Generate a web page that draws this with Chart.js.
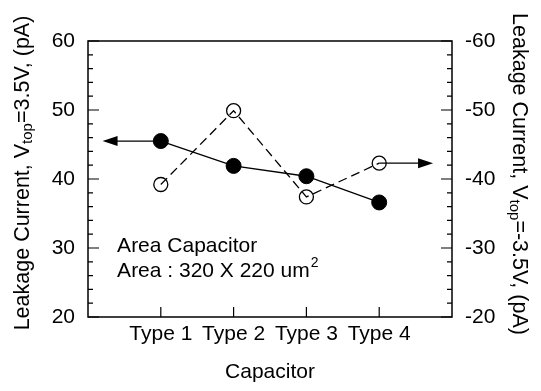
<!DOCTYPE html>
<html>
<head>
<meta charset="utf-8">
<script src="https://cdn.jsdelivr.net/npm/chart.js@4.4.1/dist/chart.umd.min.js"></script>
<style>
    html, body { margin: 0; padding: 0; background: #fff; }
    #wrap { width: 541px; height: 391px; }
</style>
</head>
<body>
<div id="wrap"><canvas id="myChart"></canvas></div>
<script>
let categories = ["Type 1", "Type 2", "Type 3", "Type 4"],
    leftValues = [45.5, 41.9, 40.4, 36.6],      // filled circles, Vtop=3.5V
    rightValues = [-39.2, -49.9, -37.4, -42.3];  // open circles, Vtop=-3.5V

let leftTicks = [20, 30, 40, 50, 60],
    rightTicks = [-60, -50, -40, -30, -20];

// where the two arrows end (x in category units)
let arrowEnds = [0.2, 4.74];

let noteLines = ["Area Capacitor", "Area : 320 X 220 um"],
    noteSup = "2";

const FONT = "Liberation Sans, Arial, Helvetica, sans-serif";

const toPoints = (vals) => vals.map((v, i) => ({ x: i + 1, y: v }));

// draw text made of pieces with different sizes / vertical offsets, centered at (0,0)
const drawRich = (ctx, parts) => {
    let total = 0;
    parts.forEach(p => {
        ctx.font = p.size + "px " + FONT;
        p.w = ctx.measureText(p.t).width;
        total += p.w;
    });
    let x = -total / 2;
    parts.forEach(p => {
        ctx.font = p.size + "px " + FONT;
        ctx.fillText(p.t, x, p.dy);
        x += p.w;
    });
};

const arrow = (ctx, x0, x1, y) => {
    let dir = x1 > x0 ? 1 : -1;
    ctx.beginPath();
    ctx.moveTo(x0, y);
    ctx.lineTo(x1 - dir * 12, y);
    ctx.stroke();
    ctx.beginPath();
    ctx.moveTo(x1, y);
    ctx.lineTo(x1 - dir * 15, y - 5);
    ctx.lineTo(x1 - dir * 15, y + 5);
    ctx.closePath();
    ctx.fill();
};

const decor = {
    id: "decor",
    afterDraw(chart) {
        const ctx = chart.ctx;
        const a = chart.chartArea;
        const sx = chart.scales.x, sy = chart.scales.y, sy2 = chart.scales.y2;
        ctx.save();
        ctx.strokeStyle = "#000";
        ctx.fillStyle = "#000";

        // frame
        ctx.lineWidth = 1.5;
        ctx.strokeRect(a.left, a.top, a.right - a.left, a.bottom - a.top);

        // inward ticks, left and right
        ctx.lineWidth = 1.2;
        ctx.beginPath();
        for (let v = 20; v <= 60; v += 2) {
            let len = v % 10 === 0 ? 11 : 5;
            let py = sy.getPixelForValue(v);
            ctx.moveTo(a.left, py); ctx.lineTo(a.left + len, py);
        }
        for (let v = -60; v <= -20; v += 2) {
            let len = v % 10 === 0 ? 11 : 5;
            let py = sy2.getPixelForValue(v);
            ctx.moveTo(a.right, py); ctx.lineTo(a.right - len, py);
        }
        categories.forEach((c, i) => {
            let px = sx.getPixelForValue(i + 1);
            ctx.moveTo(px, a.bottom); ctx.lineTo(px, a.bottom - 10);
        });
        ctx.stroke();

        // arrows
        ctx.lineWidth = 1.3;
        arrow(ctx, sx.getPixelForValue(1), sx.getPixelForValue(arrowEnds[0]), sy.getPixelForValue(leftValues[0]));
        arrow(ctx, sx.getPixelForValue(4), sx.getPixelForValue(arrowEnds[1]), sy2.getPixelForValue(rightValues[3]));

        // note text
        ctx.textBaseline = "middle";
        ctx.textAlign = "left";
        ctx.font = "21px " + FONT;
        let nx = sx.getPixelForValue(0.4);
        ctx.fillText(noteLines[0], nx, sy.getPixelForValue(30.3));
        let ny = sy.getPixelForValue(26.6);
        ctx.fillText(noteLines[1], nx, ny);
        let w = ctx.measureText(noteLines[1]).width;
        ctx.font = "14px " + FONT;
        ctx.fillText(noteSup, nx + w + 1, ny - 8);

        // axis titles with subscript
        ctx.textAlign = "left";
        ctx.textBaseline = "middle";
        ctx.save();
        ctx.translate(23, 173);
        ctx.rotate(-Math.PI / 2);
        drawRich(ctx, [
            { t: "Leakage Current, V", size: 21.5, dy: 0 },
            { t: "top", size: 15, dy: 5 },
            { t: "=3.5V, (pA)", size: 21.5, dy: 0 }
        ]);
        ctx.restore();

        ctx.save();
        ctx.translate(519, 174);
        ctx.rotate(Math.PI / 2);
        drawRich(ctx, [
            { t: "Leakage Current, V", size: 21.5, dy: 0 },
            { t: "top", size: 15, dy: 5 },
            { t: "=-3.5V, (pA)", size: 21.5, dy: 0 }
        ]);
        ctx.restore();

        // x title
        ctx.textAlign = "center";
        ctx.font = "21px " + FONT;
        ctx.fillText("Capacitor", (a.left + a.right) / 2, 372);

        ctx.restore();
    }
};

let data = {
    datasets: [{
        label: "Vtop=3.5V",
        data: toPoints(leftValues),
        yAxisID: "y",
        borderColor: "#000",
        borderWidth: 1.3,
        pointRadius: 7.5,
        pointBackgroundColor: "#000",
        pointBorderColor: "#000",
        pointBorderWidth: 1,
        tension: 0
    }, {
        label: "Vtop=-3.5V",
        data: toPoints(rightValues),
        yAxisID: "y2",
        borderColor: "#000",
        borderWidth: 1.3,
        borderDash: [9, 5],
        pointRadius: 7,
        pointBackgroundColor: "rgba(0,0,0,0)",
        pointBorderColor: "#000",
        pointBorderWidth: 1.3,
        tension: 0
    }]
};

const tickFont = { family: FONT, size: 21 };

const config = {
    type: "line",
    data: data,
    plugins: [decor],
    options: {
        responsive: true,
        maintainAspectRatio: false,
        animation: false,
        layout: { padding: { top: 41, left: 0, right: 0, bottom: 0 } },
        plugins: { legend: { display: false }, tooltip: { enabled: false } },
        scales: {
            x: {
                type: "linear",
                min: 0,
                max: 5,
                grid: { display: false, drawTicks: false },
                border: { display: false },
                ticks: {
                    stepSize: 1,
                    autoSkip: false,
                    maxRotation: 0,
                    padding: 5,
                    color: "#000",
                    font: tickFont,
                    callback: v => categories[v - 1] || ""
                },
                afterFit: s => { s.height = 74; }
            },
            y: {
                position: "left",
                min: 20,
                max: 60,
                grid: { display: false, drawTicks: false },
                border: { display: false },
                afterBuildTicks: s => { s.ticks = leftTicks.map(v => ({ value: v })); },
                ticks: { padding: 13, color: "#000", font: tickFont },
                afterFit: s => { s.width = 88; }
            },
            y2: {
                position: "right",
                min: -60,
                max: -20,
                reverse: true,
                grid: { display: false, drawTicks: false },
                border: { display: false },
                afterBuildTicks: s => { s.ticks = rightTicks.map(v => ({ value: v })); },
                ticks: { padding: 13, color: "#000", font: tickFont },
                afterFit: s => { s.width = 89; }
            }
        }
    }
};

var myChart = new Chart(document.getElementById("myChart"), config);
</script>
</body>
</html>
